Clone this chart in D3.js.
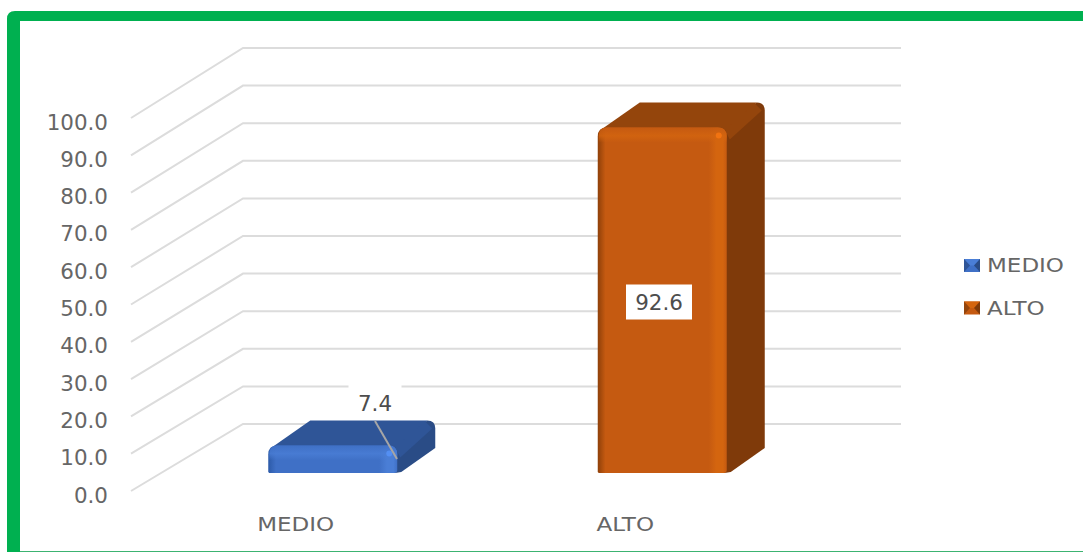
<!DOCTYPE html>
<html>
<head>
<meta charset="utf-8">
<script src="https://cdn.jsdelivr.net/npm/d3@7/dist/d3.min.js"></script>
<style>
  html, body { margin: 0; padding: 0; background: #fff; }
  svg { display: block; }
  text { font-family: "DejaVu Sans", sans-serif; }
</style>
</head>
<body>
<script>
// Chart data
const categories = ["MEDIO", "ALTO"];
const values = [7.4, 92.6];
const tickValues = [0, 10, 20, 30, 40, 50, 60, 70, 80, 90, 100];

// Palette per category: front, top, side, highlight, shadow
const palettes = [
  { front: "#3f70c6", top: "#2f5597", side: "#2a4c86", light: "#4a7ed6", dark: "#2c5aa8" },
  { front: "#c55a11", top: "#94450c", side: "#7f3a0a", light: "#d4650f", dark: "#8f4009" }
];

const width = 1083, height = 552;
const svg = d3.select("body").append("svg").attr("width", width).attr("height", height);
const defs = svg.append("defs");

// Value scales for the front edge of the floor and for the back wall
const yFront = d3.scaleLinear().domain([0, 100]).range([491, 118]);
const yBack = d3.scaleLinear().domain([0, 100]).range([424, 48]);
const xBand = d3.scaleBand().domain(categories).range([131, 790]);

const wallLeft = 243, wallRight = 901;
const barShift = 37, barFloorLift = 18, barWidth = 129, depthX = 38, depthY = 25, corner = 9;

// Frame
svg.append("path")
  .attr("d", "M7,552 V19 Q7,11 15,11 H1083 V21 H20 V552 Z")
  .attr("fill", "#00b050");
svg.append("line")
  .attr("x1", 20).attr("x2", 1083).attr("y1", 551.5).attr("y2", 551.5)
  .attr("stroke", "#3cb371").attr("stroke-width", 1);

// Gridlines: floor-to-wall diagonal, then along the back wall
svg.append("g").selectAll("path").data(tickValues).join("path")
  .attr("d", d => `M131,${yFront(d)} L${wallLeft},${yBack(d)} H${wallRight}`)
  .attr("fill", "none").attr("stroke", "#dcdcdc").attr("stroke-width", 2);

// Stretch a text selection horizontally around its anchor
function stretch(sel, k) {
  sel.each(function () {
    const t = d3.select(this);
    t.attr("textLength", this.getComputedTextLength() * k)
     .attr("lengthAdjust", "spacingAndGlyphs");
  });
  return sel;
}

// Value axis labels
svg.append("g").selectAll("text").data(tickValues).join("text")
  .attr("x", 108).attr("y", d => yFront(d) + 11.5)
  .attr("text-anchor", "end").attr("font-size", 21).attr("fill", "#666")
  .text(d => d3.format(".1f")(d))
  .call(stretch, 1.02);

// Category labels
svg.append("g").selectAll("text").data(categories).join("text")
  .attr("x", d => xBand(d) + xBand.bandwidth() / 2).attr("y", 530.5)
  .attr("text-anchor", "middle").attr("font-size", 20).attr("fill", "#666")
  .text(d => d)
  .call(stretch, 1.15);

// Gradients giving the bevelled look of each bar
palettes.forEach((p, i) => {
  const h = defs.append("linearGradient").attr("id", `front-${i}`);
  [[0, p.dark], [0.06, p.front], [0.86, p.front], [0.92, p.light], [0.97, p.light], [1, p.front]]
    .forEach(([o, c]) => h.append("stop").attr("offset", o).attr("stop-color", c));
  const v = defs.append("linearGradient").attr("id", `cap-${i}`).attr("x1", 0).attr("x2", 0).attr("y1", 0).attr("y2", 1);
  [[0, p.front, 0.8], [0.55, p.light, 0.8], [1, p.light, 0]]
    .forEach(([o, c, a]) => v.append("stop").attr("offset", o).attr("stop-color", c).attr("stop-opacity", a));
});

// Bars: side and top faces behind, rounded front face on top
const bars = svg.append("g").selectAll("g").data(categories).join("g");
bars.each(function (cat, i) {
  const g = d3.select(this), p = palettes[i];
  const x0 = xBand(cat) + xBand.bandwidth() / 2 - barWidth / 2 + barShift, x1 = x0 + barWidth;
  const yb = yFront(0) - barFloorLift, yt = yFront(values[i]) - barFloorLift;
  const r = corner;

  // Side face
  g.append("path")
    .attr("d", `M${x1 - 4},${yt} L${x1 + depthX - 8},${yt - depthY} Q${x1 + depthX},${yt - depthY} ${x1 + depthX},${yt - depthY + 8}
                V${yb - depthY} L${x1 + 4},${yb - 1} Q${x1},${yb} ${x1 - 6},${yb} Z`)
    .attr("fill", p.side);

  // Top face
  g.append("path")
    .attr("d", `M${x0 + 2},${yt + 3} L${x0 + depthX + 4},${yt - depthY} H${x1 + depthX - 8} L${x1 + 4},${yt + 2} Z`)
    .attr("fill", p.top);

  // Bevel ridge running from the front corner to the back corner
  g.append("path")
    .attr("d", `M${x1 - 2},${yt + 2} L${x1 + depthX - 10},${yt - depthY + 1} L${x1 + depthX - 3},${yt - depthY + 8} L${x1 + 3},${yt + 12} Z`)
    .attr("fill", p.top);

  // Front face
  g.append("path")
    .attr("d", `M${x0},${yb - 1} V${yt + r} Q${x0},${yt} ${x0 + r},${yt} H${x1 - r} Q${x1},${yt} ${x1},${yt + r} V${yb - 3} Q${x1},${yb} ${x1 - 3},${yb} H${x0 + 1} Z`)
    .attr("fill", `url(#front-${i})`);

  // Rounded highlight along the upper front edge
  g.append("path")
    .attr("d", `M${x0 + 1},${yt + 15} V${yt + r} Q${x0 + 1},${yt} ${x0 + r},${yt} H${x1 - r} Q${x1},${yt} ${x1},${yt + r} V${yt + 15} Z`)
    .attr("fill", `url(#cap-${i})`);

  // Specular spot on the corner
  g.append("circle")
    .attr("cx", x1 - 8).attr("cy", yt + 8).attr("r", 3)
    .attr("fill", d3.color(p.light).brighter(0.5)).attr("opacity", 0.7);
});

// Data labels: white plate with the value; the small bar gets a leader line
const labelBoxes = [
  { w: 53, h: 35, cx: 375, cy: 401, baseline: 411 },
  { w: 66, h: 35, cx: 659, cy: 302, baseline: 310 }
];
const labelFormat = d3.format(".1f");

svg.append("line")
  .attr("x1", 375).attr("y1", yFront(0) - 70).attr("x2", 397).attr("y2", yFront(0) - 32)
  .attr("stroke", "#a6a6a6").attr("stroke-width", 2);

values.forEach((v, i) => {
  const b = labelBoxes[i];
  svg.append("rect")
    .attr("x", b.cx - b.w / 2).attr("y", b.cy - b.h / 2)
    .attr("width", b.w).attr("height", b.h).attr("fill", "#fff");
  svg.append("text")
    .attr("x", b.cx).attr("y", b.baseline)
    .attr("text-anchor", "middle").attr("font-size", 21).attr("fill", "#4d4d4d")
    .text(labelFormat(v))
    .call(stretch, 1.02);
});

// Legend with small pyramid swatches
const legend = svg.append("g").selectAll("g").data(categories).join("g")
  .attr("transform", (d, i) => `translate(964,${259 + i * 42.5})`);
legend.each(function (cat, i) {
  const g = d3.select(this), p = palettes[i];
  const w = 16, h = 13, m = 6;
  g.append("rect").attr("width", w).attr("height", h).attr("fill", p.front);
  g.append("path").attr("d", `M0,0 H${w} L${w - m},${h / 2} H${m} Z`).attr("fill", p.light);
  g.append("path").attr("d", `M${w},0 V${h} L${w - m},${h / 2} Z`).attr("fill", p.side);
  g.append("path").attr("d", `M0,0 V${h} L${m},${h / 2} Z`).attr("fill", p.top);
  g.append("text")
    .attr("x", 23).attr("y", h / 2 + 6.5)
    .attr("font-size", 20).attr("fill", "#666")
    .text(cat)
    .call(stretch, 1.15);
});
</script>
</body>
</html>
